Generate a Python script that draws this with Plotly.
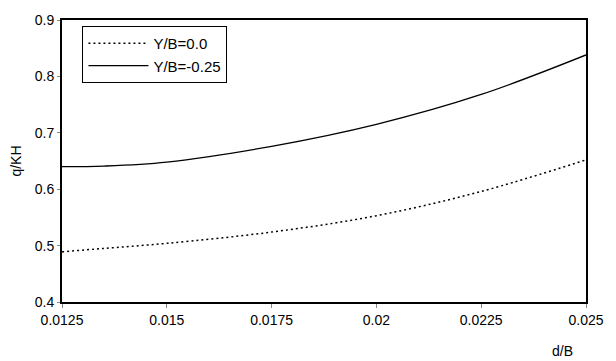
import plotly.graph_objects as go

x_db = [0.0125, 0.0135, 0.0150, 0.0175, 0.0200, 0.0225, 0.0250]
q_y0 = [0.489, 0.495, 0.504, 0.524, 0.553, 0.596, 0.652]
q_y025 = [0.640, 0.641, 0.648, 0.676, 0.715, 0.768, 0.838]

x_ticks = [0.0125, 0.015, 0.0175, 0.02, 0.0225, 0.025]
x_tick_labels = ["0.0125", "0.015", "0.0175", "0.02", "0.0225", "0.025"]
y_ticks = [0.4, 0.5, 0.6, 0.7, 0.8, 0.9]
y_tick_labels = ["0.4", "0.5", "0.6", "0.7", "0.8", "0.9"]

font_family = "Liberation Sans, Arial, sans-serif"

fig = go.Figure()
fig.add_trace(go.Scatter(
    x=x_db, y=q_y0, mode="lines", name="Y/B=0.0",
    line=dict(color="black", width=1.5, dash="2px,3px", shape="spline"),
))
fig.add_trace(go.Scatter(
    x=x_db, y=q_y025, mode="lines", name="Y/B=-0.25",
    line=dict(color="black", width=1.3, shape="spline"),
))

fig.update_layout(
    width=616, height=361,
    margin=dict(l=62, r=19, t=14, b=59),
    paper_bgcolor="white", plot_bgcolor="white",
    font=dict(family=font_family, size=14, color="black"),
    showlegend=True,
    legend=dict(
        x=0.039, y=0.979, xanchor="left", yanchor="top",
        bordercolor="black", borderwidth=1, bgcolor="white",
        font=dict(size=15, family=font_family),
        itemwidth=60, tracegroupgap=0,
    ),
    xaxis=dict(
        range=[0.0125, 0.025], tickvals=x_ticks, ticktext=x_tick_labels,
        showgrid=False, zeroline=False,
        showline=True, linecolor="black", linewidth=2, mirror=True,
        ticks="outside", ticklen=4, tickcolor="#888", tickwidth=1,
        tickfont=dict(size=14),
    ),
    yaxis=dict(
        range=[0.4, 0.9], tickvals=y_ticks, ticktext=y_tick_labels,
        showgrid=False, zeroline=False,
        showline=True, linecolor="black", linewidth=2, mirror=True,
        ticks="outside", ticklen=3, tickcolor="#888", tickwidth=1,
        tickfont=dict(size=14),
        title=dict(text="q/KH", font=dict(size=14), standoff=10),
    ),
    annotations=[dict(
        text="d/B", xref="paper", yref="paper", x=0.955, y=-0.175,
        xanchor="center", yanchor="middle", showarrow=False,
        font=dict(size=14),
    )],
)

fig.write_html("out.html")
